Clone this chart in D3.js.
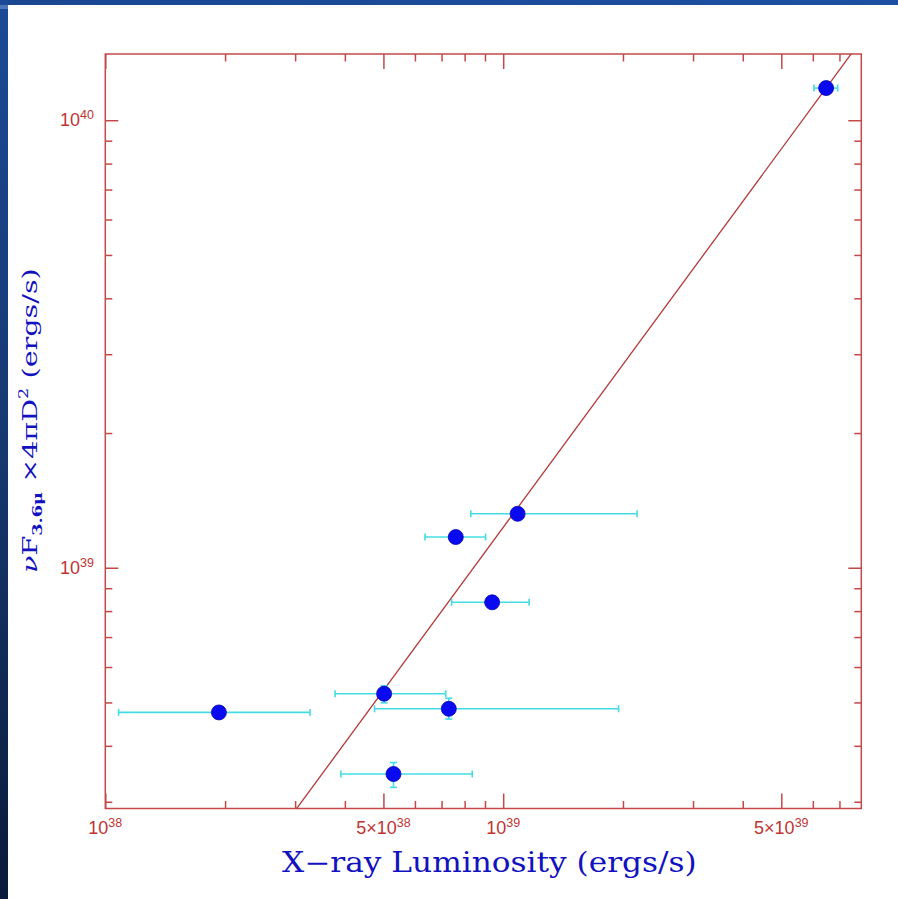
<!DOCTYPE html>
<html>
<head>
<meta charset="utf-8">
<script src="https://cdn.jsdelivr.net/npm/d3@7"></script>
<style>
  html, body { margin: 0; padding: 0; background: #ffffff; }
  svg { display: block; }
</style>
</head>
<body>
<svg id="chart" width="898" height="899"></svg>
<script>
// X-ray luminosity vs. 3.6 micron luminosity (ergs/s), with error bars
const lx     = [6.48e39, 1.087e39, 7.60e38, 9.38e38, 5.02e38, 7.30e38, 1.93e38, 5.30e38];
const lxLo   = [6.04e39, 8.29e38, 6.36e38, 7.42e38, 3.78e38, 4.75e38, 1.08e38, 3.91e38];
const lxHi   = [6.93e39, 2.17e39, 9.03e38, 1.162e39, 7.17e38, 1.95e39, 3.27e38, 8.36e38];
const lir    = [1.18e40, 1.32e39, 1.171e39, 8.37e38, 5.23e38, 4.84e38, 4.75e38, 3.46e38];
const lirLo  = [1.18e40, 1.32e39, 1.171e39, 8.37e38, 4.99e38, 4.59e38, 4.75e38, 3.23e38];
const lirHi  = [1.18e40, 1.32e39, 1.171e39, 8.37e38, 5.45e38, 5.11e38, 4.75e38, 3.67e38];

// power-law fit: log Lir = fitAt1e39 + fitSlope * (log Lx - 39)
const fitSlope = 1.21;
const fitAt1e39 = 39.09;

// axis ticks
const xMajor = [1e38, 5e38, 1e39, 5e39];
const xMinor = [2e38, 3e38, 4e38, 6e38, 7e38, 8e38, 9e38, 2e39, 3e39, 4e39, 6e39, 7e39];
const yMajor = [1e39, 1e40];
const yMinor = [3e38, 4e38, 5e38, 6e38, 7e38, 8e38, 9e38, 2e39, 3e39, 4e39, 5e39, 6e39, 7e39, 8e39, 9e39];
const xLabels = [{v: 1e38, m: "10", e: "38"}, {v: 5e38, m: "5×10", e: "38"},
                 {v: 1e39, m: "10", e: "39"}, {v: 5e39, m: "5×10", e: "39"}];
const yLabels = [{v: 1e39, m: "10", e: "39"}, {v: 1e40, m: "10", e: "40"}];

const svg = d3.select("#chart");
const W = 898, H = 899;
const frame = {left: 105.3, right: 861.3, top: 54, bottom: 808.5};
const red = "#c44848", labelRed = "#c03434", blue = "#1212c0";

// page background bands
const defs = svg.append("defs");
const gTop = defs.append("linearGradient").attr("id", "bandTop").attr("x1", 0).attr("x2", 1).attr("y1", 0).attr("y2", 0);
gTop.append("stop").attr("offset", 0).attr("stop-color", "#1a4690");
gTop.append("stop").attr("offset", 1).attr("stop-color", "#1d50a2");
const gLeft = defs.append("linearGradient").attr("id", "bandLeft").attr("x1", 0).attr("x2", 0).attr("y1", 0).attr("y2", 1);
gLeft.append("stop").attr("offset", 0).attr("stop-color", "#1c4a96");
gLeft.append("stop").attr("offset", 0.5).attr("stop-color", "#15386f");
gLeft.append("stop").attr("offset", 1).attr("stop-color", "#0a1a3a");
defs.append("clipPath").attr("id", "plotClip").append("rect")
  .attr("x", frame.left).attr("y", frame.top)
  .attr("width", frame.right - frame.left).attr("height", frame.bottom - frame.top);

svg.append("rect").attr("width", W).attr("height", H).attr("fill", "#ffffff");
svg.append("rect").attr("x", 0).attr("y", 0).attr("width", W).attr("height", 5).attr("fill", "url(#bandTop)");
svg.append("rect").attr("x", 0).attr("y", 0).attr("width", 8).attr("height", H).attr("fill", "url(#bandLeft)");
svg.append("rect").attr("x", 0).attr("y", 5).attr("width", 8).attr("height", 4).attr("fill", "#4f76b8");

// scales
const x = d3.scaleLog().domain([1e38, Math.pow(10, 39.9)]).range([frame.left, frame.right]);
const y = d3.scaleLog().domain([Math.pow(10, 38.462), Math.pow(10, 40.148)]).range([frame.bottom, frame.top]);

// axes (ticks point inward on all four sides)
function styleAxis(g) {
  g.select(".domain").remove();
  g.selectAll(".tick line").attr("stroke", red).attr("stroke-width", 1.5);
  g.selectAll(".tick text").remove();
}
const axes = svg.append("g");
[[xMajor, 15], [xMinor, 7.5]].forEach(([vals, len]) => {
  axes.append("g").attr("transform", `translate(0,${frame.bottom})`)
    .call(d3.axisBottom(x).tickValues(vals).tickSize(-len).tickFormat("")).call(styleAxis);
  axes.append("g").attr("transform", `translate(0,${frame.top})`)
    .call(d3.axisTop(x).tickValues(vals).tickSize(-len).tickFormat("")).call(styleAxis);
});
[[yMajor, 13], [yMinor, 7]].forEach(([vals, len]) => {
  axes.append("g").attr("transform", `translate(${frame.left},0)`)
    .call(d3.axisLeft(y).tickValues(vals).tickSize(-len).tickFormat("")).call(styleAxis);
  axes.append("g").attr("transform", `translate(${frame.right},0)`)
    .call(d3.axisRight(y).tickValues(vals).tickSize(-len).tickFormat("")).call(styleAxis);
});

// frame
svg.append("rect")
  .attr("x", frame.left).attr("y", frame.top)
  .attr("width", frame.right - frame.left).attr("height", frame.bottom - frame.top)
  .attr("fill", "none").attr("stroke", red).attr("stroke-width", 1.5);

// tick labels with superscript exponents
function powerLabel(sel, d) {
  sel.append("tspan").text(d.m);
  sel.append("tspan").attr("font-size", 12.5).attr("dy", -7).text(d.e);
}
svg.append("g").selectAll("text").data(xLabels).join("text")
  .attr("x", d => x(d.v)).attr("y", 834)
  .attr("text-anchor", "middle")
  .attr("font-family", "'Liberation Sans', Arial, sans-serif")
  .attr("font-size", 18).attr("fill", labelRed)
  .each(function (d) { powerLabel(d3.select(this), d); });
svg.append("g").selectAll("text").data(yLabels).join("text")
  .attr("x", 94).attr("y", d => y(d.v) + 6)
  .attr("text-anchor", "end")
  .attr("font-family", "'Liberation Sans', Arial, sans-serif")
  .attr("font-size", 18).attr("fill", labelRed)
  .each(function (d) { powerLabel(d3.select(this), d); });

// fit line
const lxFit = [1e38, Math.pow(10, 39.9)];
const fitLine = d3.line().x(d => x(d)).y(d => y(Math.pow(10, fitAt1e39 + fitSlope * (Math.log10(d) - 39))));
svg.append("path").datum(lxFit)
  .attr("clip-path", "url(#plotClip)")
  .attr("d", fitLine)
  .attr("fill", "none").attr("stroke", "#b23a3a").attr("stroke-width", 1.3);

// error bars
const pts = lx.map((v, i) => ({x: v, y: lir[i], x0: lxLo[i], x1: lxHi[i], y0: lirLo[i], y1: lirHi[i]}));
const eb = svg.append("g").attr("stroke", "#44dce4").attr("stroke-width", 1.6).attr("fill", "none");
const cap = 3.5;
pts.forEach(p => {
  const cy = y(p.y), cx = x(p.x);
  eb.append("line").attr("x1", x(p.x0)).attr("x2", x(p.x1)).attr("y1", cy).attr("y2", cy);
  [p.x0, p.x1].forEach(v => eb.append("line").attr("x1", x(v)).attr("x2", x(v)).attr("y1", cy - cap).attr("y2", cy + cap));
  if (p.y0 !== p.y1) {
    eb.append("line").attr("x1", cx).attr("x2", cx).attr("y1", y(p.y0)).attr("y2", y(p.y1));
    [p.y0, p.y1].forEach(v => eb.append("line").attr("x1", cx - cap).attr("x2", cx + cap).attr("y1", y(v)).attr("y2", y(v)));
  }
});

// data points
svg.append("g").selectAll("circle").data(pts).join("circle")
  .attr("cx", d => x(d.x)).attr("cy", d => y(d.y)).attr("r", 7.5)
  .attr("fill", "#0a0af0").attr("stroke", "#0000b0").attr("stroke-width", 0.8);

// axis titles, stretched to their drawn widths
const serif = "'DejaVu Serif', 'Liberation Serif', serif";
const xTitleG = svg.append("g");
const xTitle = xTitleG.append("text")
  .attr("x", 0).attr("y", 0)
  .attr("font-family", serif).attr("font-size", 27).attr("fill", blue)
  .text("X\u2212ray Luminosity (ergs/s)");
const xw = xTitle.node().getComputedTextLength();
xTitleG.attr("transform", `translate(282,872) scale(${415 / xw},1)`);

const yTitleG = svg.append("g");
const yTitle = yTitleG.append("text")
  .attr("x", 0).attr("y", 0)
  .attr("font-family", serif).attr("font-size", 21).attr("fill", blue);
yTitle.append("tspan").attr("font-style", "italic").text("ν");
yTitle.append("tspan").text("F");
yTitle.append("tspan").attr("font-size", 13).attr("font-weight", "bold").attr("dy", 5).text("3.6μ");
yTitle.append("tspan").attr("dy", -5).text(" ×4πD");
yTitle.append("tspan").attr("font-size", 13).attr("dy", -9).text("2");
yTitle.append("tspan").attr("dy", 9).text(" (ergs/s)");
const yw = yTitle.node().getComputedTextLength();
yTitleG.attr("transform", `translate(37,573) rotate(-90) scale(${305 / yw},1)`);
</script>
</body>
</html>
